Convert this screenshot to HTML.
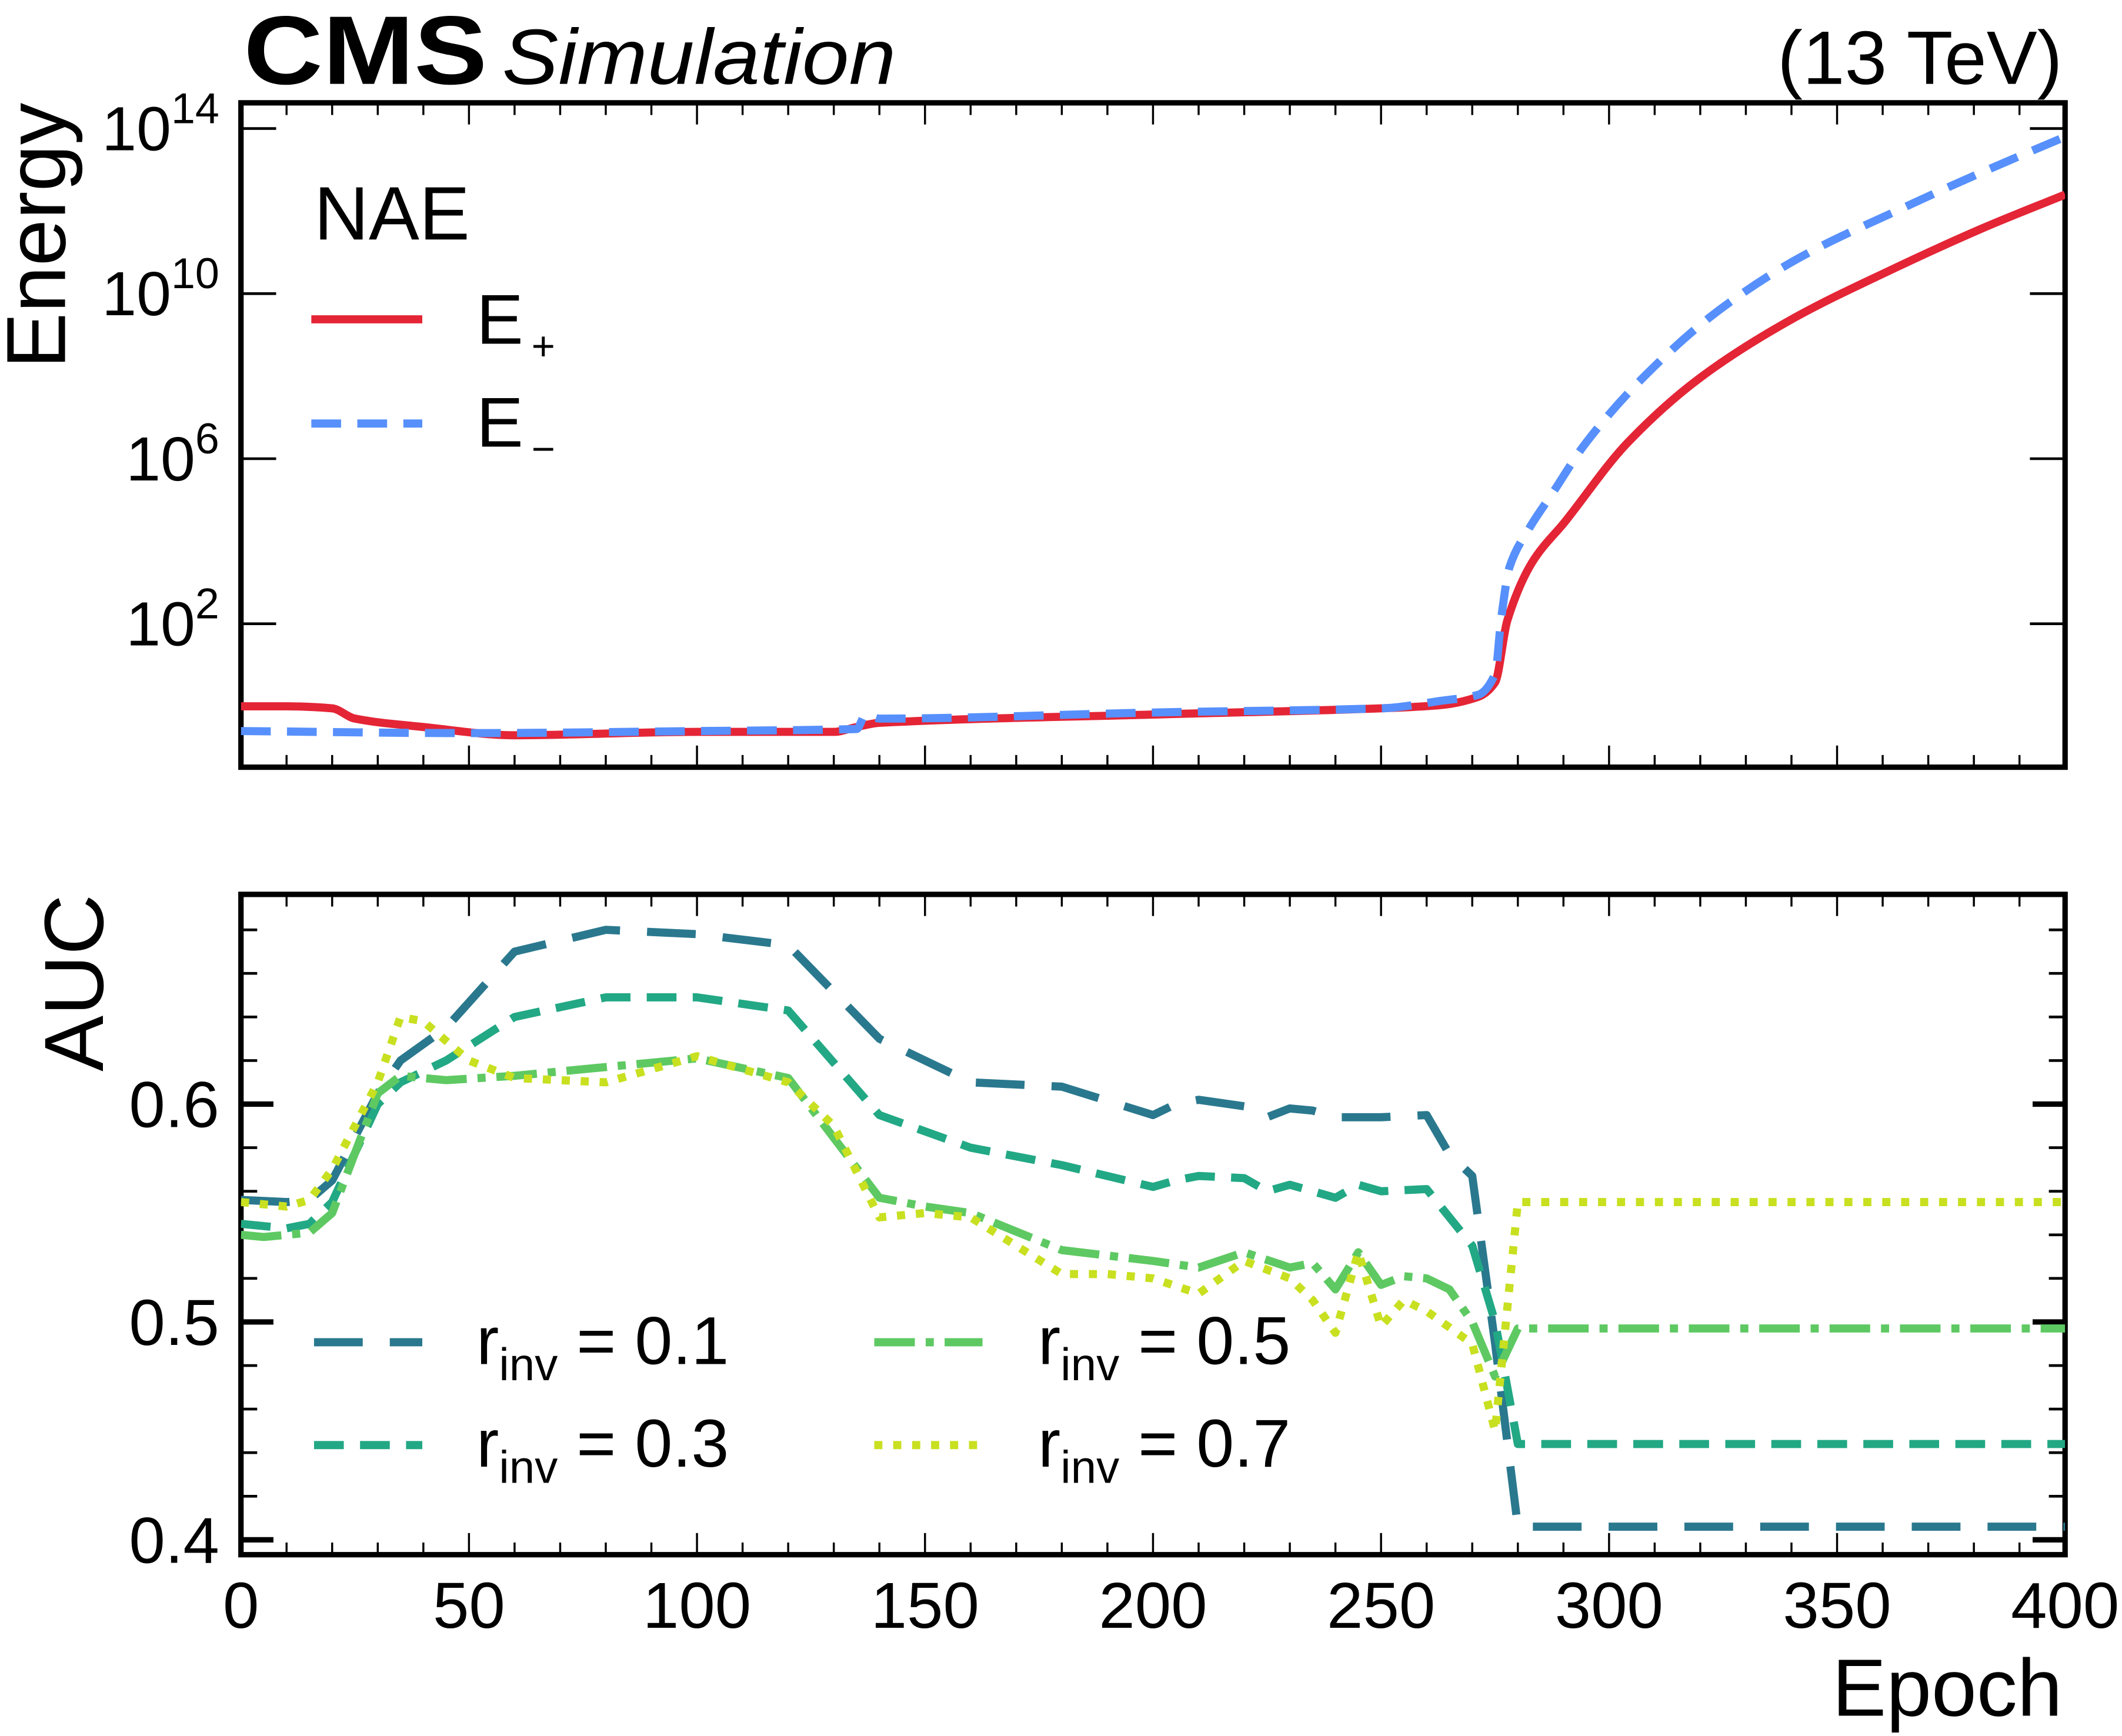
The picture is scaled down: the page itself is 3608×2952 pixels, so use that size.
<!DOCTYPE html>
<html><head><meta charset="utf-8"><style>
html,body{margin:0;padding:0;background:#fff}
svg{display:block}
text{font-family:"Liberation Sans",sans-serif;fill:#000}
</style></head><body>
<svg id="chart" width="3608" height="2952" viewBox="0 0 1568 1283" xmlns="http://www.w3.org/2000/svg">
<g id="g"></g>
</svg>
<script>
// ---- data ----
const epochsEplus = [0,10,20,25,40,60,100,130,135,140,200,250,263,271.3,275,277.7,283.1,290.4,304,320.2,340.1,360,381.8,400];
const logEplus    = [0,0,-0.05,-0.3,-0.5,-0.7,-0.62,-0.62,-0.5,-0.4,-0.2,-0.05,0.03,0.23,0.58,2.08,3.48,4.48,6.38,7.98,9.38,10.48,11.58,12.4];
const epochsEminus = [0,50,100,135,137,140,200,250,263,271.3,275,276.4,278.2,282.3,287.7,294.9,307.6,323.9,341.9,364.5,382.6,400];
const logEminus    = [-0.6,-0.65,-0.6,-0.55,-0.2,-0.3,-0.15,-0.05,0.13,0.28,0.78,2.18,3.38,4.28,5.18,6.38,7.98,9.58,10.88,12.08,12.98,13.8];
const epochsR1 = [0,10,15,20,30,35,45,60,80,100,120,140,160,180,200,205,210,220,225,230,235,240,250,260,265,270,275,280,400];
const aucR1    = [0.556,0.555,0.556,0.565,0.605,0.62,0.635,0.67,0.68,0.678,0.673,0.63,0.61,0.608,0.595,0.6,0.602,0.599,0.594,0.598,0.597,0.594,0.594,0.595,0.577,0.567,0.49,0.406,0.406];
const epochsR3 = [0,10,15,20,30,35,45,60,80,100,120,140,160,180,200,205,210,220,225,230,240,245,250,260,270,275,280,400];
const aucR3    = [0.545,0.543,0.545,0.555,0.6,0.61,0.62,0.64,0.649,0.649,0.643,0.595,0.58,0.572,0.562,0.565,0.567,0.566,0.56,0.563,0.557,0.563,0.56,0.561,0.535,0.5,0.444,0.444];
const epochsR5 = [0,5,10,15,20,30,35,45,60,80,100,120,140,150,160,180,200,210,220,230,235,240,245,250,255,260,265,270,275,280,400];
const aucR5    = [0.54,0.539,0.54,0.541,0.55,0.605,0.613,0.611,0.613,0.617,0.621,0.612,0.557,0.553,0.55,0.533,0.528,0.525,0.532,0.525,0.527,0.515,0.532,0.517,0.521,0.52,0.515,0.5,0.475,0.497,0.497];
const epochsR7 = [0,10,15,20,30,35,40,50,60,80,100,120,130,140,150,160,180,190,200,210,220,230,235,240,245,250,255,260,270,275,280,400];
const aucR7    = [0.555,0.553,0.556,0.57,0.61,0.64,0.638,0.62,0.612,0.61,0.622,0.61,0.59,0.548,0.55,0.548,0.522,0.522,0.52,0.513,0.528,0.52,0.51,0.495,0.532,0.498,0.51,0.505,0.49,0.45,0.555,0.555];
const xTicks = [0,50,100,150,200,250,300,350,400];
const aucTicks = [0.4,0.5,0.6];
const energyTickExps = [14,10,6,2];

// ---- axes ----
const X0=178,X1=1526;
const x = e => X0 + (e/400)*(X1-X0);
const T0=76,T1=567;
const yE = l => 461 - (l-2)*30.5;
const B0=661,B1=1149;
const yA = v => 977 - (v-0.5)*1610;

const g=document.getElementById('g');
const NS='http://www.w3.org/2000/svg';
function mk(tag,attrs,parent){const el=document.createElementNS(NS,tag);for(const k in attrs)el.setAttribute(k,attrs[k]);(parent||g).appendChild(el);return el;}

const defs=mk('defs',{});
const c1=mk('clipPath',{id:'ct'},defs);mk('rect',{x:X0,y:T0,width:X1-X0,height:T1-T0},c1);
const c2=mk('clipPath',{id:'cb'},defs);mk('rect',{x:X0,y:B0,width:X1-X0,height:B1-B0},c2);

function pathD(pts,smooth){
  if(!smooth) return pts.map((p,i)=>(i?'L':'M')+p[0].toFixed(1)+','+p[1].toFixed(1)).join(' ');
  const n=pts.length, dx=[], m=[], t=[];
  for(let i=0;i<n-1;i++){dx[i]=pts[i+1][0]-pts[i][0]; m[i]=(pts[i+1][1]-pts[i][1])/dx[i];}
  t[0]=m[0]; t[n-1]=m[n-2];
  for(let i=1;i<n-1;i++){ t[i]=(m[i-1]*m[i]<=0)?0:2/(1/m[i-1]+1/m[i]); }
  let d='M'+pts[0][0].toFixed(1)+','+pts[0][1].toFixed(1);
  for(let i=0;i<n-1;i++){
    const h=dx[i];
    d+=' C'+(pts[i][0]+h/3).toFixed(1)+','+(pts[i][1]+t[i]*h/3).toFixed(1)+' '+(pts[i+1][0]-h/3).toFixed(1)+','+(pts[i+1][1]-t[i+1]*h/3).toFixed(1)+' '+pts[i+1][0].toFixed(1)+','+pts[i+1][1].toFixed(1);
  }
  return d;
}
function line(xs,ys,fx,fy,stroke,dash,clip,name,smooth){
  const pts=xs.map((e,i)=>[fx(e),fy(ys[i])]);
  const p=mk('path',{d:pathD(pts,smooth),fill:'none',stroke:stroke,'stroke-width':6,'stroke-dasharray':dash||'none','clip-path':'url(#'+clip+')','stroke-linejoin':'round'});
  
  
  return p;
}

function frame(y0,y1,name){
  const r=mk('rect',{x:X0,y:y0,width:X1-X0,height:y1-y0,fill:'none',stroke:'#000','stroke-width':4});
  
  
  for(let e=0;e<=400;e+=10){
    const L=(e%50===0)?16:9;
    mk('line',{x1:x(e),x2:x(e),y1:y1,y2:y1-L,stroke:'#000','stroke-width':1.5});
    mk('line',{x1:x(e),x2:x(e),y1:y0,y2:y0+L,stroke:'#000','stroke-width':1.5});
  }
}

// ---- top panel ----
frame(T0,T1,'energy-panel-frame');
energyTickExps.forEach(l=>{
  const yy=yE(l);
  mk('line',{x1:X0,x2:X0+26,y1:yy,y2:yy,stroke:'#000','stroke-width':2});
  mk('line',{x1:X1,x2:X1-26,y1:yy,y2:yy,stroke:'#000','stroke-width':2});
});
energyTickExps.forEach(p=>{
  const t=mk('text',{x:162,y:yE(p)+16,'font-size':46,'text-anchor':'end'});
  
  
  t.innerHTML='10<tspan dy="-20" font-size="32">'+p+'</tspan>';
});
line(epochsEplus,logEplus,x,yE,'#e42536','', 'ct','e-plus-line',true);
line(epochsEminus,logEminus,x,yE,'#5790fc','22,12','ct','e-minus-line',true);

// ---- bottom panel ----
frame(B0,B1,'auc-panel-frame');
for(let i=0;i<=15;i++){
  const v=0.38+i*0.02; const yy=yA(v); if(yy<B0||yy>B1)continue;
  const major=Math.abs(v*10-Math.round(v*10))<1e-6;
  const L=major?24:12;
  mk('line',{x1:X0,x2:X0+L,y1:yy,y2:yy,stroke:'#000','stroke-width':major?4:2});
  mk('line',{x1:X1,x2:X1-L,y1:yy,y2:yy,stroke:'#000','stroke-width':major?4:2});
}
aucTicks.forEach(v=>{
  const t=mk('text',{x:162,y:yA(v)+17,'font-size':48,'text-anchor':'end'});
  
  
  t.textContent=v.toFixed(1);
});
xTicks.forEach(e=>{
  const t=mk('text',{x:x(e),y:1203,'font-size':48,'text-anchor':'middle'});
  
  
  t.textContent=e;
});
line(epochsR1,aucR1,x,yA,'#2a788e','36,20','cb','r-inv-0.1-line');
line(epochsR3,aucR3,x,yA,'#22a884','22,12','cb','r-inv-0.3-line');
line(epochsR5,aucR5,x,yA,'#5ec962','30,8,6,8','cb','r-inv-0.5-line');
line(epochsR7,aucR7,x,yA,'#c8e020','6,8','cb','r-inv-0.7-line');
</script>
<svg style="position:absolute;left:0;top:0" width="3608" height="2952" viewBox="0 0 1568 1283">
<text x="180" y="62" font-size="72" font-weight="bold" textLength="180" lengthAdjust="spacingAndGlyphs">CMS</text>
<text x="371" y="62" font-size="58" font-style="italic" textLength="291" lengthAdjust="spacingAndGlyphs">Simulation</text>
<text x="1524" y="62" font-size="56" text-anchor="end">(13 TeV)</text>
<text transform="translate(48,76) rotate(-90)" font-size="62" text-anchor="end">Energy</text>
<text transform="translate(76,661) rotate(-90)" font-size="62" text-anchor="end">AUC</text>
<text x="1524" y="1268" font-size="60" text-anchor="end">Epoch</text>
<g>
<text x="232" y="177" font-size="56">NAE</text>
<line x1="230" y1="236" x2="312" y2="236" stroke="#e42536" stroke-width="6"/>
<text x="352" y="254" font-size="52">E<tspan dx="6" dy="12" font-size="30">+</tspan></text>
<line x1="230" y1="313" x2="312" y2="313" stroke="#5790fc" stroke-width="6" stroke-dasharray="22,12"/>
<text x="352" y="330" font-size="52">E<tspan dx="6" dy="12" font-size="30">−</tspan></text>
</g>
<g>
<line x1="232" y1="992" x2="312" y2="992" stroke="#2a788e" stroke-width="6" stroke-dasharray="36,20"/>
<text x="352" y="1008" font-size="50">r<tspan dy="12" font-size="34">inv</tspan><tspan dy="-12"> = 0.1</tspan></text>
<line x1="232" y1="1068" x2="312" y2="1068" stroke="#22a884" stroke-width="6" stroke-dasharray="22,12"/>
<text x="352" y="1084" font-size="50">r<tspan dy="12" font-size="34">inv</tspan><tspan dy="-12"> = 0.3</tspan></text>
<line x1="646" y1="992" x2="726" y2="992" stroke="#5ec962" stroke-width="6" stroke-dasharray="30,8,6,8"/>
<text x="767" y="1008" font-size="50">r<tspan dy="12" font-size="34">inv</tspan><tspan dy="-12"> = 0.5</tspan></text>
<line x1="646" y1="1068" x2="726" y2="1068" stroke="#c8e020" stroke-width="6" stroke-dasharray="6,8"/>
<text x="767" y="1084" font-size="50">r<tspan dy="12" font-size="34">inv</tspan><tspan dy="-12"> = 0.7</tspan></text>
</g>
</svg>
</body></html>
